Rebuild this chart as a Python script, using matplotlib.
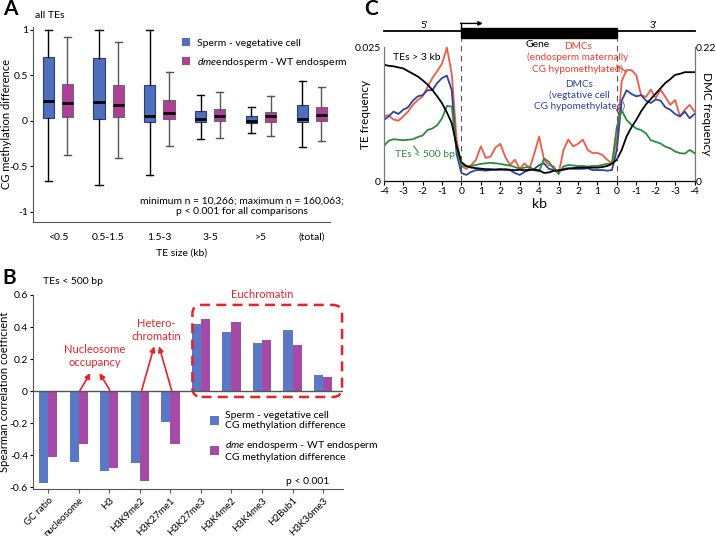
import matplotlib
matplotlib.use('Agg')
import matplotlib.pyplot as plt
from matplotlib.patches import Patch, Rectangle, FancyBboxPatch
import numpy as np

plt.rcParams['font.family'] = ['Lato', 'DejaVu Sans']
plt.rcParams['mathtext.fontset'] = 'custom'
plt.rcParams['mathtext.it'] = 'Lato:italic'
plt.rcParams['mathtext.rm'] = 'Lato'

# ---- panel A: CG methylation difference by TE size ----
te_sizes = ['<0.5', '0.5-1.5', '1.5-3', '3-5', '>5', '(total)']
sperm_whislo = [-0.66, -0.71, -0.60, -0.20, -0.13, -0.29]
sperm_q1 = [0.03, 0.02, -0.01, -0.01, -0.02, -0.01]
sperm_med = [0.22, 0.20, 0.05, 0.015, 0.0, 0.02]
sperm_q3 = [0.70, 0.69, 0.39, 0.11, 0.055, 0.17]
sperm_whishi = [1.0, 1.0, 0.99, 0.28, 0.15, 0.44]
dme_whislo = [-0.38, -0.41, -0.28, -0.19, -0.17, -0.22]
dme_q1 = [0.04, 0.04, 0.015, 0.0, -0.01, 0.0]
dme_med = [0.19, 0.17, 0.08, 0.05, 0.05, 0.06]
dme_q3 = [0.40, 0.39, 0.23, 0.13, 0.10, 0.15]
dme_whishi = [0.92, 0.86, 0.53, 0.32, 0.27, 0.37]

# ---- panel B: Spearman correlation, TEs < 500 bp ----
marks = ['GC ratio', 'nucleosome', 'H3', 'H3K9me2', 'H3K27me1',
         'H3K27me3', 'H3K4me2', 'H3K4me3', 'H2Bub1', 'H3K36me3']
sperm_rho = [-0.57, -0.44, -0.50, -0.45, -0.19, 0.42, 0.37, 0.30, 0.38, 0.10]
dme_rho = [-0.41, -0.33, -0.48, -0.56, -0.33, 0.45, 0.43, 0.32, 0.29, 0.09]

# ---- panel C: profiles around genes (0.25 kb steps, 5' -4 kb ... 3' -4 kb) ----
kb_labels = ['-4', '-3', '-2', '-1', '0', '1', '2', '3', '4',
             '3', '2', '1', '0', '-1', '-2', '-3', '-4']
te_long = [0.0217, 0.0215, 0.0214, 0.0212, 0.0210, 0.0205, 0.0200, 0.0195, 0.0188,
           0.0180, 0.0170, 0.0158, 0.0145, 0.0128, 0.0108, 0.0065, 0.0035,
           0.0028, 0.0025, 0.0024, 0.0023, 0.0022, 0.0022, 0.0021, 0.0021,
           0.0022, 0.0021, 0.0020, 0.0021, 0.0020, 0.0021, 0.0021, 0.0020,
           0.0015, 0.0016, 0.0019, 0.0020, 0.0021, 0.0023, 0.0024, 0.0025,
           0.0025, 0.0025, 0.0025, 0.0025, 0.0026, 0.0028, 0.0032, 0.0040,
           0.0058, 0.0083, 0.0100, 0.0114, 0.0130, 0.0143, 0.0153, 0.0163,
           0.0173, 0.0183, 0.0190, 0.0198, 0.0200, 0.0203, 0.0203, 0.0203]
te_short = [0.0065, 0.0075, 0.0078, 0.0077, 0.0076, 0.0077, 0.0078, 0.0082, 0.0085,
            0.0095, 0.0098, 0.0104, 0.0117, 0.0140, 0.0139, 0.0058, 0.0030,
            0.0027, 0.0028, 0.0030, 0.0032, 0.0033, 0.0034, 0.0033, 0.0032,
            0.0030, 0.0029, 0.0026, 0.0023, 0.0025, 0.0027, 0.0020, 0.0018,
            0.0042, 0.0036, 0.0023, 0.0014, 0.0027, 0.0030, 0.0029, 0.0028,
            0.0028, 0.0027, 0.0028, 0.0028, 0.0030, 0.0032, 0.0033, 0.0101,
            0.0132, 0.0114, 0.0105, 0.0098, 0.0095, 0.0089, 0.0076, 0.0073,
            0.0070, 0.0064, 0.0061, 0.0055, 0.0052, 0.0051, 0.0058, 0.0052]
dmc_endo = [0.106, 0.108, 0.101, 0.099, 0.106, 0.114, 0.125, 0.133, 0.139,
            0.154, 0.169, 0.180, 0.193, 0.219, 0.176, 0.068, 0.024,
            0.020, 0.026, 0.035, 0.057, 0.038, 0.040, 0.055, 0.061,
            0.040, 0.026, 0.035, 0.020, 0.029, 0.020, 0.045, 0.073,
            0.035, 0.026, 0.024, 0.011, 0.051, 0.068, 0.057, 0.061,
            0.068, 0.051, 0.046, 0.046, 0.043, 0.035, 0.029, 0.068,
            0.164, 0.182, 0.182, 0.174, 0.141, 0.138, 0.150, 0.136,
            0.150, 0.138, 0.125, 0.133, 0.106, 0.117, 0.125, 0.114]
dmc_veg = [0.100, 0.106, 0.114, 0.110, 0.117, 0.121, 0.132, 0.139, 0.141,
           0.149, 0.149, 0.161, 0.169, 0.173, 0.149, 0.044, 0.013,
           0.010, 0.015, 0.018, 0.018, 0.017, 0.018, 0.019, 0.020,
           0.018, 0.018, 0.013, 0.010, 0.015, 0.018, 0.020, 0.026,
           0.029, 0.020, 0.018, 0.015, 0.020, 0.021, 0.020, 0.020,
           0.020, 0.021, 0.018, 0.018, 0.018, 0.017, 0.018, 0.051,
           0.132, 0.149, 0.143, 0.139, 0.141, 0.132, 0.128, 0.134,
           0.132, 0.121, 0.117, 0.110, 0.106, 0.114, 0.103, 0.110]

blue_a = '#4f6fbd'
mag_a = '#b03f98'
blue_b = '#5b78c6'
mag_b = '#a54aa6'
red = '#e8222a'

fig = plt.figure(figsize=(7.16, 5.36), dpi=100)

# ================= panel A =================
ax = fig.add_axes([0.046, 0.586, 0.415, 0.364])
pos = np.arange(len(te_sizes))


def make_stats(lo, q1, med, q3, hi):
    return [dict(whislo=a, q1=b, med=c, q3=d, whishi=e, fliers=[])
            for a, b, c, d, e in zip(lo, q1, med, q3, hi)]


ax.bxp(make_stats(sperm_whislo, sperm_q1, sperm_med, sperm_q3, sperm_whishi),
       positions=pos - 0.19, widths=0.22, capwidths=0.14, patch_artist=True,
       showfliers=False,
       boxprops=dict(facecolor=blue_a, edgecolor='#2b3f70', linewidth=0.8),
       medianprops=dict(color='black', linewidth=2),
       whiskerprops=dict(color='black', linewidth=1),
       capprops=dict(color='black', linewidth=1))
ax.bxp(make_stats(dme_whislo, dme_q1, dme_med, dme_q3, dme_whishi),
       positions=pos + 0.19, widths=0.22, capwidths=0.14, patch_artist=True,
       showfliers=False,
       boxprops=dict(facecolor=mag_a, edgecolor='#6a6a6a', linewidth=0.8),
       medianprops=dict(color='black', linewidth=2),
       whiskerprops=dict(color='#555555', linewidth=1),
       capprops=dict(color='#555555', linewidth=1))
ax.set_xlim(-0.49, 5.36)
ax.set_ylim(-1.11, 1.03)
ax.set_xticks(pos)
ax.set_xticklabels(te_sizes, fontsize=7.5)
ax.set_yticks([1, 0.5, 0, -0.5, -1])
ax.set_yticklabels(['1', '0.5', '0', '-0.5', '-1'], fontsize=7.5)
ax.tick_params(axis='x', length=0, pad=8)
ax.tick_params(axis='y', length=2, pad=1.5)
for s in ['top', 'right']:
    ax.spines[s].set_visible(False)
ax.spines['left'].set_color('#555555')
ax.spines['bottom'].set_color('#555555')
ax.set_ylabel('CG methylation difference', fontsize=8)
ax.yaxis.set_label_coords(-0.072, 0.5)
ax.set_xlabel('TE size (kb)', fontsize=7.5, labelpad=5)
ax.legend([Patch(facecolor=blue_a), Patch(facecolor=mag_a)],
          ['Sperm - vegetative cell', r'$\it{dme}$endosperm - WT endosperm'],
          loc='upper left', bbox_to_anchor=(0.47, 0.99), frameon=False,
          handlelength=0.8, handleheight=0.8, handletextpad=0.6,
          labelspacing=0.8, fontsize=7.5)
ax.text(0.704, 0.08, 'minimum n = 10,266; maximum n = 160,063;\np < 0.001 for all comparisons',
        transform=ax.transAxes, ha='center', va='center', fontsize=7.5, linespacing=1.25)
fig.text(35 / 716, 1 - 15 / 536, 'all TEs', fontsize=7.5, va='center')
fig.text(0.004, 1 - 9 / 536, 'A', fontsize=15, fontweight='bold', va='center')

# ================= panel B =================
bx = fig.add_axes([0.046, 0.0877, 0.433, 0.362])
xb = np.arange(len(marks))
bx.bar(xb - 0.15, sperm_rho, width=0.3, color=blue_b)
bx.bar(xb + 0.15, dme_rho, width=0.3, color=mag_b)
bx.axhline(0, color='#555555', linewidth=1)
bx.set_xlim(-0.5, 9.65)
bx.set_ylim(-0.61, 0.6)
bx.set_yticks([0.6, 0.4, 0.2, 0, -0.2, -0.4, -0.6])
bx.set_yticklabels(['0.6', '0.4', '0.2', '0', '-0.2', '-0.4', '-0.6'], fontsize=7.5)
bx.set_xticks(xb)
bx.set_xticklabels(marks, rotation=45, ha='right', rotation_mode='anchor', fontsize=7)
bx.tick_params(axis='x', length=3, pad=2, color='#555555')
bx.tick_params(axis='y', length=2, pad=1.5)
for s in ['top', 'right']:
    bx.spines[s].set_visible(False)
bx.spines['left'].set_color('#555555')
bx.spines['bottom'].set_color('#555555')
bx.set_ylabel('Spearman correlation coefficient', fontsize=8)
bx.yaxis.set_label_coords(-0.075, 0.5)

box = FancyBboxPatch((4.72, -0.036), 4.9, 0.574,
                     boxstyle='round,pad=0,rounding_size=0.3', mutation_aspect=0.19,
                     fill=False, edgecolor=red, linestyle=(0, (4, 2.5)), linewidth=1.8,
                     clip_on=False)
bx.add_patch(box)
bx.text(7.02, 0.6, 'Euchromatin', color=red, fontsize=8, ha='center', va='center')
bx.text(1.53, 0.22, 'Nucleosome\noccupancy', color=red, fontsize=8, ha='center',
        va='center', linespacing=1.2)
bx.text(3.55, 0.38, 'Hetero-\nchromatin', color=red, fontsize=8, ha='center',
        va='center', linespacing=1.2)
arrow = dict(arrowstyle='-|>', color=red, linewidth=1.2, mutation_scale=8,
             shrinkA=0, shrinkB=0)
for tail, head in [((1.04, 0.005), (1.38, 0.113)), ((2.02, 0.005), (1.68, 0.113)),
                   ((3.06, 0.005), (3.47, 0.28)), ((4.04, 0.005), (3.63, 0.28))]:
    bx.annotate('', xy=head, xytext=tail, arrowprops=arrow)
bx.legend([Patch(facecolor=blue_b), Patch(facecolor=mag_b)],
          ['Sperm - vegetative cell\nCG methylation difference',
           '$\\it{dme}$ endosperm - WT endosperm\nCG methylation difference'],
          loc='upper left', bbox_to_anchor=(0.54, 0.45), frameon=False,
          handlelength=0.9, handleheight=1.0, handletextpad=0.6,
          labelspacing=0.8, fontsize=7.5)
bx.text(0.955, 0.04, 'p < 0.001', transform=bx.transAxes, ha='right',
        va='center', fontsize=7.5)
fig.text(43 / 716, 1 - 281 / 536, 'TEs < 500 bp', fontsize=7.5, va='center')
fig.text(0.004, 1 - 278 / 536, 'B', fontsize=15, fontweight='bold', va='center')

# ================= panel C =================
cx = fig.add_axes([0.536, 0.6623, 0.434, 0.25])
cx2 = cx.twinx()
xc = np.arange(len(te_long)) * 0.25
cx2.plot(xc, dmc_endo, color='#ef5a44', linewidth=1.3)
cx2.plot(xc, dmc_veg, color='#2c44a0', linewidth=1.3)
cx.plot(xc, te_short, color='#2e8b3e', linewidth=1.3)
cx.plot(xc, te_long, color='black', linewidth=1.3)
cx.set_zorder(cx2.get_zorder() + 1)
cx.patch.set_visible(False)
cx.set_xlim(0, 16)
cx.set_ylim(0, 0.025)
cx2.set_ylim(0, 0.22)
cx.set_xticks(np.arange(17))
cx.set_xticklabels(kb_labels, fontsize=7.5)
cx.set_yticks([0, 0.025])
cx.set_yticklabels(['0', '0.025'], fontsize=7.5)
cx2.set_yticks([0, 0.22])
cx2.set_yticklabels(['0', '0.22'], fontsize=7.5)
cx.tick_params(axis='x', length=3, pad=1.5)
cx.tick_params(axis='y', length=0, pad=2)
cx2.tick_params(axis='y', length=0, pad=1)
for a in (cx, cx2):
    a.spines['top'].set_visible(False)
    a.spines['left'].set_color('#777777')
    a.spines['right'].set_color('#777777')
cx.set_xlabel('kb', fontsize=10, labelpad=1)
cx.set_ylabel('TE frequency', fontsize=8.5)
cx.yaxis.set_label_coords(-0.04, 0.5)
cx2.set_ylabel('DMC frequency', fontsize=8.5, rotation=270, va='center')
cx2.yaxis.set_label_coords(1.04, 0.5)

# gene model above the plot
cx.plot([0, 16], [0.0280, 0.0280], color='black', linewidth=1.3, clip_on=False)
cx.add_patch(Rectangle((4, 0.0267), 8, 0.0018, color='black', clip_on=False))
cx.plot([4, 4], [0.0285, 0.0294], color='black', linewidth=1, clip_on=False)
cx.annotate('', xy=(5.1, 0.0294), xytext=(3.95, 0.0294),
            arrowprops=dict(arrowstyle='-|>', color='black', linewidth=1,
                            mutation_scale=6, shrinkA=0, shrinkB=0),
            annotation_clip=False)
for gx in (4, 12):
    cx.plot([gx, gx], [0, 0.0267], color='#555555', linewidth=0.8,
            linestyle=(0, (5, 4)), clip_on=False)
cx.text(2.1, 0.0291, "5'", fontsize=7, ha='center', va='center')
cx.text(13.9, 0.0291, "3'", fontsize=7, ha='center', va='center')
cx.text(7.9, 0.0255, 'Gene', fontsize=7.5, ha='center', va='center')
cx.text(0.46, 0.0231, 'TEs > 3 kb', fontsize=7.5, ha='left', va='center')
cx.text(0.57, 0.0049, 'TEs < 500 bp', fontsize=7.5, ha='left', va='center',
        color='#2e8b3e')
cx.plot([1.54, 1.75], [0.0065, 0.0055], color='#2e8b3e', linewidth=0.8)
cx2.text(10.0, 0.202, 'DMCs\n(endosperm maternally\nCG hypomethylated)',
         fontsize=7.2, ha='center', va='center', color='#ef3b2c', linespacing=1.2)
cx2.plot([11.99, 12.5], [0.190, 0.179], color='#ef3b2c', linewidth=0.8)
cx2.text(10.08, 0.141, 'DMCs\n(vegtative cell\nCG hypomethylated)',
         fontsize=7.2, ha='center', va='center', color='#2c44a0', linespacing=1.2)
cx2.plot([11.99, 12.14], [0.117, 0.107], color='#2c44a0', linewidth=0.8)
fig.text(364 / 716, 1 - 9 / 536, 'C', fontsize=15, fontweight='bold', va='center')

fig.savefig('out.png', dpi=100)
